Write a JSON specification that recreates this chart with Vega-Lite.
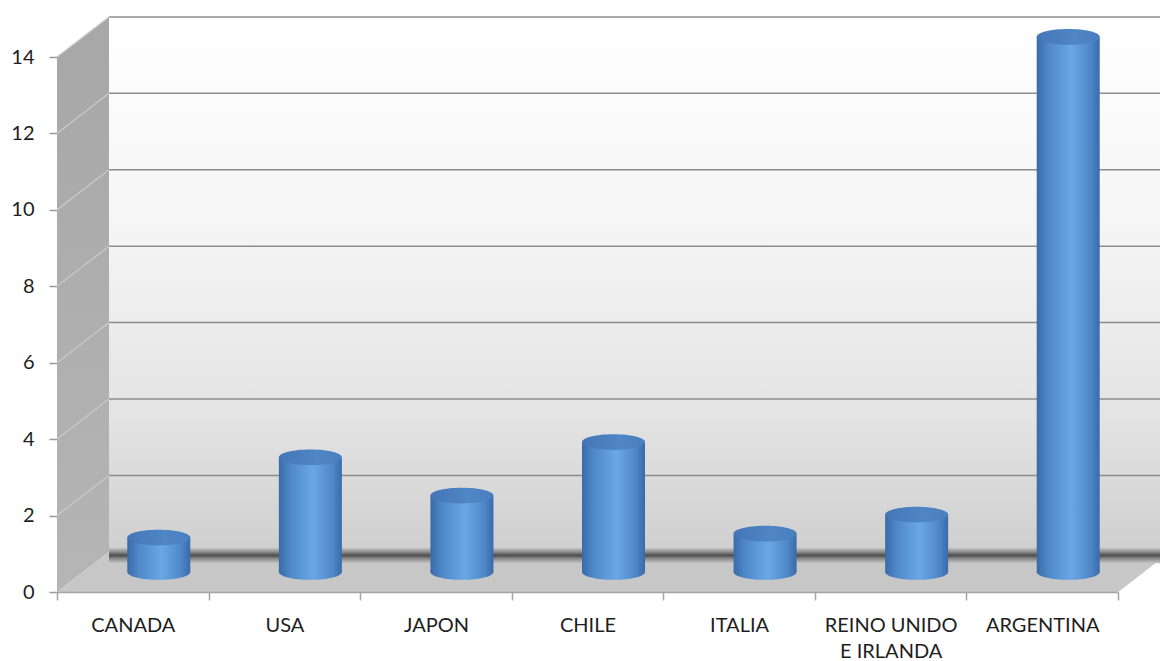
{
  "$schema": "https://vega.github.io/schema/vega-lite/v6.json",
  "width": 1103,
  "height": 577,
  "padding": {"left": 57, "top": 15, "right": 0, "bottom": 69},
  "autosize": {"type": "none"},
  "background": "#ffffff",
  "config": {"view": {"stroke": null}, "font": "Lato"},
  "datasets": {
    "paises": [
      {"pais": "CANADA", "valor": 0.9},
      {"pais": "USA", "valor": 3.0},
      {"pais": "JAPON", "valor": 2.0},
      {"pais": "CHILE", "valor": 3.4},
      {"pais": "ITALIA", "valor": 1.0},
      {"pais": "REINO UNIDO E IRLANDA", "valor": 1.5},
      {"pais": "ARGENTINA", "valor": 14.0}
    ]
  },
  "resolve": {"scale": {"x": "independent", "y": "independent"}, "axis": {"x": "independent", "y": "independent"}},
  "layer": [
    {
      "layer": [
        {
          "data": {"values": [{"x0": 0, "x1": 7, "y0": 0, "y1": 14}]},
          "mark": {"type": "rect", "fill": {"gradient": "linear", "x1": 0, "y1": 0, "x2": 0, "y2": 1, "stops": [{"offset": 0, "color": "#ffffff"}, {"offset": 0.4, "color": "#f5f5f5"}, {"offset": 0.75, "color": "#e3e3e3"}, {"offset": 1, "color": "#cfcfcf"}]}},
          "encoding": {
            "x": {"field": "x0", "type": "quantitative", "scale": {"domain": [-0.343, 6.933], "nice": false, "zero": false}, "axis": null},
            "x2": {"field": "x1"},
            "y": {"field": "y0", "type": "quantitative", "scale": {"domain": [-1.05, 14.05], "nice": false, "zero": false}, "axis": null},
            "y2": {"field": "y1"}
          }
        },
        {
          "data": {"values": [{"v": 2}, {"v": 4}, {"v": 6}, {"v": 8}, {"v": 10}, {"v": 12}, {"v": 14}]},
          "mark": {"type": "rule", "color": "#8c8c8c", "strokeWidth": 1.5},
          "encoding": {
            "x": {"datum": 0, "type": "quantitative"},
            "x2": {"datum": 7},
            "y": {"field": "v", "type": "quantitative"}
          }
        }
      ]
    },
    {
      "layer": [
        {
          "data": {"values": [{"x": 0, "lo": 0, "hi": 14}, {"x": 0.343, "lo": 1.05, "hi": 15.05}]},
          "mark": {"type": "area", "fill": {"gradient": "linear", "x1": 0, "y1": 0, "x2": 0, "y2": 1, "stops": [{"offset": 0, "color": "#a7a7a7"}, {"offset": 1, "color": "#b5b5b5"}]}},
          "encoding": {
            "x": {"field": "x", "type": "quantitative", "scale": {"domain": [0, 7.276], "nice": false, "zero": false}, "axis": null},
            "y": {"field": "lo", "type": "quantitative", "scale": {"domain": [0, 15.1], "nice": false, "zero": false},
              "axis": {"orient": "left", "values": [0, 2, 4, 6, 8, 10, 12, 14], "domain": false, "grid": false, "title": null, "tickSize": 8, "tickColor": "#9a9a9a", "tickWidth": 1.5, "labelFontSize": 20, "labelColor": "#1e1e1e", "labelPadding": 15}},
            "y2": {"field": "hi"}
          }
        },
        {
          "data": {"values": [{"v": 2, "vb": 3.05}, {"v": 4, "vb": 5.05}, {"v": 6, "vb": 7.05}, {"v": 8, "vb": 9.05}, {"v": 10, "vb": 11.05}, {"v": 12, "vb": 13.05}, {"v": 14, "vb": 15.05}]},
          "mark": {"type": "rule", "color": "#c9c9c9", "strokeWidth": 1.3},
          "encoding": {
            "x": {"datum": 0, "type": "quantitative"},
            "x2": {"datum": 0.343},
            "y": {"field": "v", "type": "quantitative"},
            "y2": {"field": "vb"}
          }
        },
        {
          "data": {"values": [{"x": 0, "lo": 0, "hi": 0}, {"x": 0.343, "lo": 0, "hi": 1.05}, {"x": 7, "lo": 0, "hi": 1.05}, {"x": 7.343, "lo": 1.05, "hi": 1.05}]},
          "mark": {"type": "area", "fill": "#c7c7c7"},
          "encoding": {
            "x": {"field": "x", "type": "quantitative"},
            "y": {"field": "lo", "type": "quantitative"},
            "y2": {"field": "hi"}
          }
        }
      ]
    },
    {
      "data": {"values": [{"x0": 0, "x1": 7, "y0": -0.3, "y1": 0.12}]},
      "mark": {"type": "rect", "fill": {"gradient": "linear", "x1": 0, "y1": 0, "x2": 0, "y2": 1, "stops": [{"offset": 0, "color": "#cfcfcf"}, {"offset": 0.3, "color": "#8a8a8a"}, {"offset": 0.5, "color": "#4d4d4d"}, {"offset": 0.72, "color": "#8d8d8d"}, {"offset": 1, "color": "#c7c7c7"}]}},
      "encoding": {
        "x": {"field": "x0", "type": "quantitative", "scale": {"domain": [-0.343, 6.933], "nice": false, "zero": false}, "axis": null},
        "x2": {"field": "x1"},
        "y": {"field": "y0", "type": "quantitative", "scale": {"domain": [-1.05, 14.05], "nice": false, "zero": false}, "axis": null},
        "y2": {"field": "y1"}
      }
    },
    {
      "data": {"name": "paises"},
      "encoding": {
        "x": {"field": "pais", "type": "nominal", "sort": null,
          "scale": {"type": "band", "domain": ["CANADA", "USA", "JAPON", "CHILE", "ITALIA", "REINO UNIDO E IRLANDA", "ARGENTINA"], "range": [26, 1087], "paddingInner": 0, "paddingOuter": 0}, "axis": null}
      },
      "layer": [
        {
          "mark": {"type": "point", "shape": "M -1 0 A 1 0.25 0 1 1 1 0 A 1 0.25 0 1 1 -1 0 Z", "size": 3969, "filled": true, "opacity": 1, "strokeWidth": 0,
            "fill": {"gradient": "linear", "x1": 0, "y1": 0, "x2": 1, "y2": 0, "stops": [{"offset": 0, "color": "#3a6aa8"}, {"offset": 0.18, "color": "#4f88c9"}, {"offset": 0.55, "color": "#6aa7e6"}, {"offset": 0.85, "color": "#4f88c9"}, {"offset": 1, "color": "#3a6aa8"}]}},
          "encoding": {
            "y": {"datum": 0, "type": "quantitative", "scale": {"domain": [-0.525, 14.575], "nice": false, "zero": false}, "axis": null}
          }
        },
        {
          "mark": {"type": "bar", "width": 63,
            "fill": {"gradient": "linear", "x1": 0, "y1": 0, "x2": 1, "y2": 0, "stops": [{"offset": 0, "color": "#3a6aa8"}, {"offset": 0.18, "color": "#4f88c9"}, {"offset": 0.55, "color": "#6aa7e6"}, {"offset": 0.85, "color": "#4f88c9"}, {"offset": 1, "color": "#3a6aa8"}]}},
          "encoding": {
            "y": {"field": "valor", "type": "quantitative", "stack": null},
            "y2": {"datum": 0}
          }
        },
        {
          "mark": {"type": "point", "shape": "M -1 0 A 1 0.25 0 1 1 1 0 A 1 0.25 0 1 1 -1 0 Z", "size": 3969, "filled": true, "opacity": 1, "strokeWidth": 0,
            "fill": {"gradient": "linear", "x1": 0, "y1": 0, "x2": 1, "y2": 0, "stops": [{"offset": 0, "color": "#4476b6"}, {"offset": 0.6, "color": "#4f86c6"}, {"offset": 1, "color": "#4a7ebf"}]}},
          "encoding": {
            "y": {"field": "valor", "type": "quantitative"}
          }
        }
      ]
    },
    {
      "data": {"name": "paises"},
      "mark": {"type": "bar", "opacity": 0},
      "encoding": {
        "x": {"field": "pais", "type": "nominal", "sort": null,
          "scale": {"type": "band", "domain": ["CANADA", "USA", "JAPON", "CHILE", "ITALIA", "REINO UNIDO E IRLANDA", "ARGENTINA"], "range": [0, 1061], "paddingInner": 0, "paddingOuter": 0},
          "axis": {"orient": "bottom", "title": null, "labelAngle": 0, "tickBand": "extent", "tickSize": 8, "tickColor": "#a5a5a5", "tickWidth": 1.5, "domainColor": "#a5a5a5", "domainWidth": 1.5, "labelFontSize": 20, "labelColor": "#1e1e1e", "labelPadding": 15, "labelLineHeight": 26, "labelLimit": 0, "zindex": 1,
            "labelExpr": "datum.value == 'REINO UNIDO E IRLANDA' ? ['REINO UNIDO', 'E IRLANDA'] : datum.value"}},
        "y": {"datum": 0, "type": "quantitative", "scale": {"domain": [0, 1]}, "axis": null}
      }
    }
  ]
}
